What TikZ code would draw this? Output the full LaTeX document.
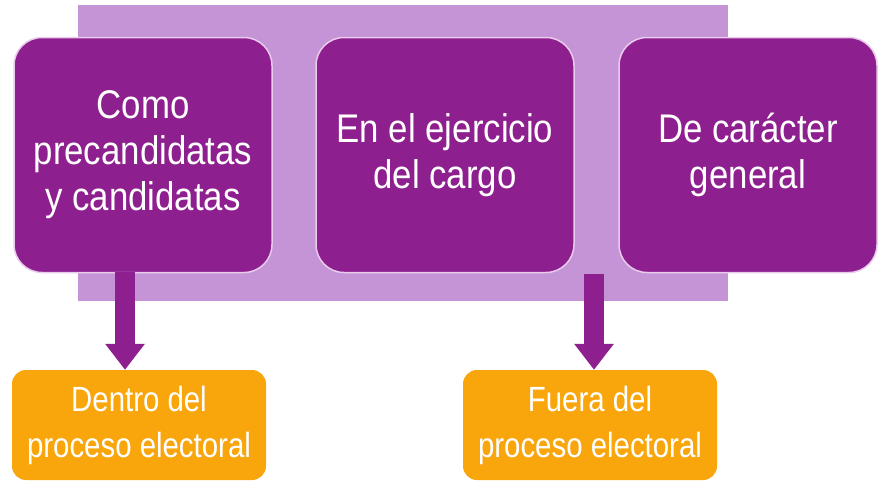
\documentclass[tikz,border=0pt]{standalone}
\usepackage{fontspec}
\usetikzlibrary{arrows.meta}
\newfontfamily\kindfont[FakeStretch=0.87]{Liberation Sans}
\newfontfamily\scopefont[FakeStretch=0.84]{Liberation Sans}
\definecolor{plum}{HTML}{8E1F8F}
\definecolor{lilac}{HTML}{C594D6}
\definecolor{amber}{HTML}{F9A50C}
\definecolor{rim}{HTML}{E9CBEC}

\begin{document}
\begin{tikzpicture}[x = 1pt, y = -1pt,
	kind/.style = {fill = plum, draw = rim, line width = 1.5pt, rounded corners = 28pt, minimum width = 258pt, minimum height = 235pt, align = center, text = white, font = \kindfont\fontsize{40}{46}\selectfont},
	scope/.style = {fill = amber, rounded corners = 14pt, minimum width = 254pt, minimum height = 110pt, align = center, text = white, font = \scopefont\fontsize{35}{46}\selectfont},
	down/.style = {plum, line width = 20pt, -{Triangle[width = 38pt 0 0, length = 26pt 0 0]}}]
					\useasboundingbox (0,0) rectangle (888,485);
					\fill[lilac] (78,5) rectangle (728,301);
					\node[kind] (K1) at (143,155) {Como\\precandidatas\\y candidatas};
					\node[kind] (K2) at (445,155) {En el ejercicio\\del cargo};
					\node[kind] (K3) at (748,155) {De carácter\\general};
					\node[scope] (S1) at (139,425) {Dentro del\\proceso electoral};
					\node[scope] (S2) at (590,425) {Fuera del\\proceso electoral};
					\coordinate (A1) at (125,272);
					\coordinate (A2) at (594,274);
					\draw[down] (A1) -- (A1 |- S1.north);
					\draw[down] (A2) -- (A2 |- S2.north);
				\end{tikzpicture}
\end{document}
